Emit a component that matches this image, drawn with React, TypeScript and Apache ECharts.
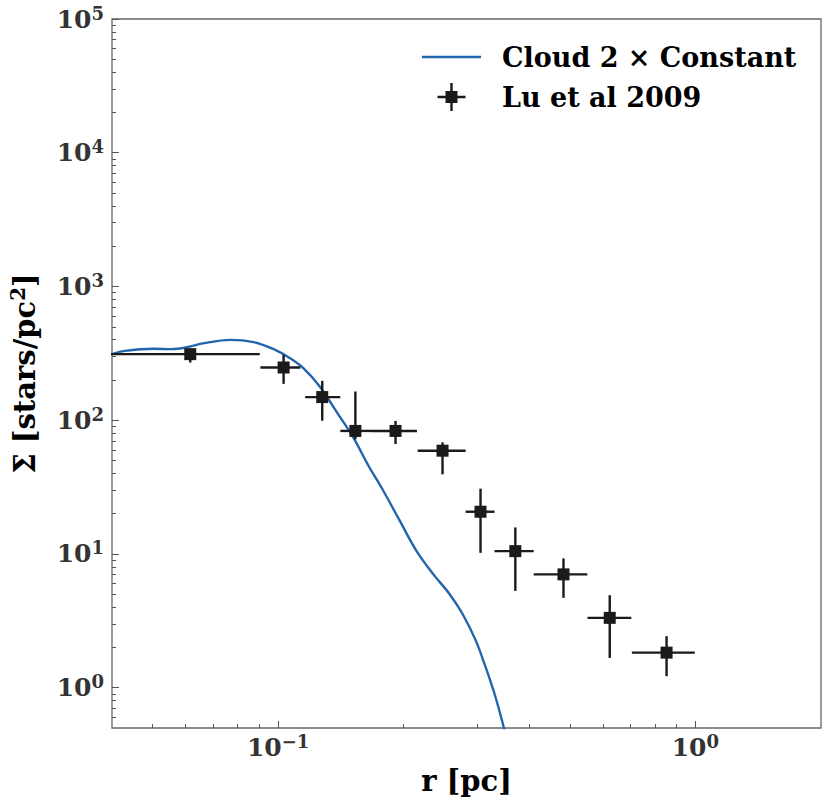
import React, { useEffect, useRef } from "react";
import * as echarts from "echarts";

// Axis ranges (real units, log axes)
const xRange = [0.04, 2];
const yRange = [0.5, 1e5];
const xMajorExps = [-1, 0];
const yMajorExps = [0, 1, 2, 3, 4, 5];

// Model curve: Cloud 2 x Constant
const curveR = [0.0401, 0.0429, 0.0505, 0.0554, 0.0601, 0.0665, 0.0769, 0.0874, 0.0976, 0.1069, 0.115, 0.126, 0.138, 0.1512, 0.1643, 0.1783, 0.1954, 0.214, 0.2346, 0.257, 0.2764, 0.2974, 0.3142, 0.3319, 0.3475, 0.3637];
const curveSigma = [312, 330, 342, 340, 350, 377, 399, 384, 340, 291, 245, 178, 116, 75.0, 46.3, 30.1, 17.9, 10.7, 7.16, 5.07, 3.59, 2.27, 1.43, 0.853, 0.504, 0.287];

// Lu et al 2009 data with error bars
const dataR = [0.0616, 0.1031, 0.1276, 0.1532, 0.1912, 0.2478, 0.3056, 0.3703, 0.483, 0.6234, 0.853];
const dataSigma = [312, 248, 149, 83.2, 83.2, 59.2, 20.7, 10.5, 7.04, 3.33, 1.83];
const dataRLow = [0.035, 0.0907, 0.1161, 0.141, 0.167, 0.216, 0.2815, 0.3301, 0.4098, 0.5515, 0.7044];
const dataRHigh = [0.0904, 0.1131, 0.1409, 0.167, 0.2152, 0.2815, 0.3301, 0.4098, 0.5508, 0.7023, 0.997];
const dataSigmaLow = [270, 187, 99.3, 72, 66.5, 39.4, 10.2, 5.3, 4.7, 1.67, 1.22];
const dataSigmaHigh = [336, 308, 197, 164, 98.8, 68.4, 30.8, 15.8, 9.27, 4.92, 2.43];

const FONT = "DejaVu Serif";
const lg = (v: number) => Math.log10(v);

function minorTicks(lo: number, hi: number): number[] {
  const out: number[] = [];
  const a = Math.floor(lg(lo));
  const b = Math.ceil(lg(hi));
  for (let n = a; n <= b; n++) {
    for (let k = 2; k <= 9; k++) {
      const v = lg(k) + n;
      if (v > lg(lo) + 1e-6 && v < lg(hi) - 1e-6) out.push(v);
    }
  }
  return out;
}

const expLabel = (v: number) => {
  const n = Math.round(v);
  const s = n < 0 ? "\u2212" + String(-n) : String(n);
  return "{b|10}{s|" + s + "}";
};

const richLabel = {
  b: { fontFamily: FONT, fontWeight: "bold", fontSize: 25, lineHeight: 30, color: "#333" },
  s: { fontFamily: FONT, fontWeight: "bold", fontSize: 18, lineHeight: 18, color: "#333", verticalAlign: "top" },
};

export default function App() {
  const ref = useRef<HTMLDivElement>(null);
  useEffect(() => {
    if (!ref.current) return;
    const chart = echarts.init(ref.current, null, { renderer: "svg" });
    const xMin = lg(xRange[0]);
    const xMax = lg(xRange[1]);
    const yMin = lg(yRange[0]);
    const yMax = lg(yRange[1]);
    const tickColor = "#555";

    const errData = dataR.map((r, i) => [
      lg(r),
      lg(dataSigma[i]),
      lg(dataRLow[i]),
      lg(dataRHigh[i]),
      lg(dataSigmaLow[i]),
      lg(dataSigmaHigh[i]),
    ]);

    const markerIcon =
      "path://M8,8 L20,8 L20,20 L8,20 Z M12.8,0 L15.2,0 L15.2,28 L12.8,28 Z M0,12.8 L28,12.8 L28,15.2 L0,15.2 Z";
    const lineIcon = "path://M0,0 L59,0 L59,2.4 L0,2.4 Z";

    const nameStyle = { fontFamily: FONT, fontWeight: "bold", fontSize: 29, color: "#000" };

    chart.setOption({
      animation: false,
      backgroundColor: "#fff",
      grid: {
        left: 108,
        top: 19,
        right: 9,
        bottom: 76,
        show: true,
        borderColor: "#666",
        borderWidth: 1.3,
        backgroundColor: "transparent",
      },
      legend: {
        orient: "vertical",
        left: 422,
        top: 43,
        padding: 0,
        itemWidth: 59,
        itemHeight: 28,
        itemGap: 12,
        textStyle: {
          fontFamily: FONT,
          fontWeight: "bold",
          fontSize: 27,
          color: "#000",
          padding: [0, 0, 0, 16],
          lineHeight: 28,
        },
        data: [
          { name: "Cloud 2 \u00d7 Constant", icon: lineIcon },
          { name: "Lu et al 2009", icon: markerIcon },
        ],
      },
      xAxis: [
        {
          type: "value",
          min: xMin,
          max: xMax,
          name: "r [pc]",
          nameLocation: "middle",
          nameGap: 38,
          nameTextStyle: nameStyle,
          axisLine: { show: false, onZero: false },
          splitLine: { show: false },
          axisTick: { show: true, inside: true, length: 7, customValues: xMajorExps, lineStyle: { color: tickColor, width: 1 } },
          axisLabel: { show: true, margin: 4, customValues: xMajorExps, formatter: expLabel, rich: richLabel },
        },
        {
          type: "value",
          min: xMin,
          max: xMax,
          position: "bottom",
          axisLine: { show: false, onZero: false },
          splitLine: { show: false },
          axisLabel: { show: false },
          axisTick: { show: true, inside: true, length: 4, customValues: minorTicks(xRange[0], xRange[1]), lineStyle: { color: tickColor, width: 1 } },
        },
      ],
      yAxis: [
        {
          type: "value",
          min: yMin,
          max: yMax,
          name: "{m|\u03a3 [stars/pc}{s|2}{m|]}",
          nameLocation: "middle",
          nameRotate: 90,
          nameGap: 70,
          nameTextStyle: {
            ...nameStyle,
            rich: {
              m: { ...nameStyle, lineHeight: 34 },
              s: { fontFamily: FONT, fontWeight: "bold", fontSize: 20, lineHeight: 20, color: "#000", verticalAlign: "top" },
            },
          },
          axisLine: { show: false, onZero: false },
          splitLine: { show: false },
          axisTick: { show: true, inside: true, length: 7, customValues: yMajorExps, lineStyle: { color: tickColor, width: 1 } },
          axisLabel: { show: true, margin: 8, customValues: yMajorExps, formatter: expLabel, rich: richLabel },
        },
        {
          type: "value",
          min: yMin,
          max: yMax,
          position: "left",
          axisLine: { show: false, onZero: false },
          splitLine: { show: false },
          axisLabel: { show: false },
          axisTick: { show: true, inside: true, length: 4, customValues: minorTicks(yRange[0], yRange[1]), lineStyle: { color: tickColor, width: 1 } },
        },
      ],
      series: [
        {
          name: "Cloud 2 \u00d7 Constant",
          type: "line",
          xAxisIndex: 0,
          yAxisIndex: 0,
          data: curveR.map((r, i) => [lg(r), lg(curveSigma[i])]),
          symbol: "none",
          smooth: 0.35,
          clip: true,
          lineStyle: { color: "#2166ac", width: 2.4 },
          itemStyle: { color: "#2166ac" },
          z: 3,
        },
        {
          type: "custom",
          xAxisIndex: 0,
          yAxisIndex: 0,
          clip: true,
          encode: { x: 0, y: 1 },
          data: errData,
          z: 4,
          renderItem: (params: any, api: any) => {
            const a = api.coord([api.value(2), api.value(1)]);
            const b = api.coord([api.value(3), api.value(1)]);
            const c = api.coord([api.value(0), api.value(4)]);
            const d = api.coord([api.value(0), api.value(5)]);
            const style = { stroke: "#1a1a1a", lineWidth: 2.4 };
            return {
              type: "group",
              children: [
                { type: "line", shape: { x1: a[0], y1: a[1], x2: b[0], y2: b[1] }, style },
                { type: "line", shape: { x1: c[0], y1: c[1], x2: d[0], y2: d[1] }, style },
              ],
            };
          },
        },
        {
          name: "Lu et al 2009",
          type: "scatter",
          xAxisIndex: 0,
          yAxisIndex: 0,
          symbol: "rect",
          symbolSize: 12,
          data: dataR.map((r, i) => [lg(r), lg(dataSigma[i])]),
          itemStyle: { color: "#1a1a1a", opacity: 1 },
          z: 5,
        },
      ],
    });
    return () => chart.dispose();
  }, []);
  return (
    <div
      ref={ref}
      style={{ position: "absolute", left: 0, top: 0, width: 830, height: 804 }}
    />
  );
}
